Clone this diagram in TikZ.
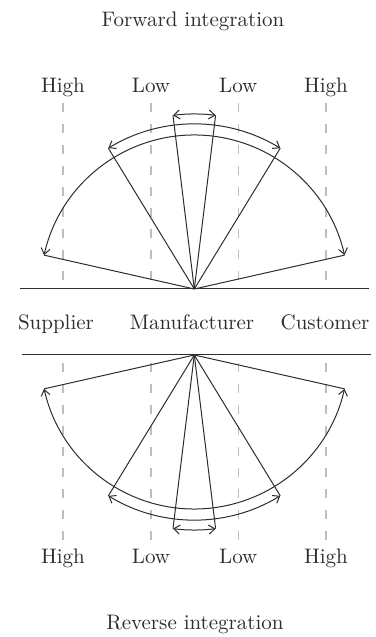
\documentclass[tikz,border=0pt]{standalone}
\usepackage{xcolor}
\usepackage{tikz}
\usetikzlibrary{arrows.meta, positioning, calc}
\definecolor{inkgray}{RGB}{45,45,45}
\definecolor{guidegray}{RGB}{190,190,190}

\begin{document}
\begin{tikzpicture}[x=0.5pt, y=0.5pt,
  lbl/.style={font=\fontsize{10.5}{12}\selectfont, text=inkgray, inner sep=0pt, anchor=base},
  guide/.style={draw=guidegray, line width=0.6pt, dash pattern=on 4.5pt off 6pt},
  ray/.style={draw=inkgray, line width=0.5pt},
  sweep/.style={draw=inkgray, line width=0.5pt, {Straight Barb[length=3pt,width=4.5pt]}-{Straight Barb[length=3pt,width=4.5pt]}}
]
\useasboundingbox (0,0) rectangle (375,637);

% apexes of the two fans
\coordinate (top) at (194.3,348);
\coordinate (bot) at (194.3,282);

% titles and the chain
\node[lbl] (fwd) at (193,610) {Forward integration};
\node[lbl] (rev) at (195,7) {Reverse integration};
\node[lbl] (sup) at (56,307) {Supplier};
\node[lbl] (man) at (192,307) {Manufacturer};
\node[lbl] (cus) at (325,307) {Customer};

% High / Low labels with dashed guides
\foreach \x/\t/\n in {63/High/1, 151/Low/2, 238.3/Low/3, 326/High/4} {
  \node[lbl] (tl\n) at (\x,544) {\t};
  \node[lbl] (bl\n) at (\x,73) {\t};
  \coordinate (tg\n) at (\x,534);
  \coordinate (bg\n) at (\x,97);
  \draw[guide] (tg\n) -- (tg\n |- top);
  \draw[guide] (bg\n) -- (bg\n |- bot);
}

\draw[ray] (20,348) -- (369,348);
\draw[ray] (22,282) -- (371,282);

% rays
\foreach \a/\r/\n in {12.7/154/hr, 167.3/154/hl, 58.6/165/mr, 121.4/165/ml, 83/175/sr, 97/175/sl} {
  \draw[ray] (top) -- ++(\a:\r) coordinate (t\n);
  \draw[ray] (bot) -- ++(-\a:\r) coordinate (b\n);
}

% sweeps
\draw[sweep] (thl) arc[start angle=167.3, end angle=12.7, radius=154];
\draw[sweep] (tml) arc[start angle=121.4, end angle=58.6, radius=165];
\draw[sweep] (tsl) arc[start angle=97, end angle=83, radius=175];
\draw[sweep] (bhl) arc[start angle=-167.3, end angle=-12.7, radius=154];
\draw[sweep] (bml) arc[start angle=-121.4, end angle=-58.6, radius=165];
\draw[sweep] (bsl) arc[start angle=-97, end angle=-83, radius=175];
\end{tikzpicture}
\end{document}
